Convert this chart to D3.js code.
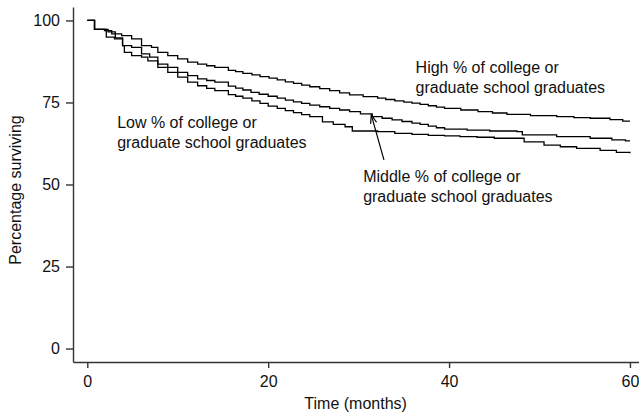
<!DOCTYPE html>
<html>
<head>
<meta charset="utf-8">
<script src="https://cdn.jsdelivr.net/npm/d3@7"></script>
<style>
  html, body { margin: 0; padding: 0; background: #fff; }
  svg { display: block; font-family: "Liberation Sans", Arial, Helvetica, sans-serif; }
</style>
</head>
<body>
<svg id="chart" width="639" height="412"></svg>
<script>
// Kaplan–Meier survival by share of college / graduate school graduates
const highMonths = [0, 0.8, 1.9, 2.7, 3.8, 4.9, 6.0, 7.1, 7.8, 8.9, 10.0, 11.1, 12.2, 13.2, 14.1, 15.6, 16.4, 17.2, 18.2, 19.1, 20.1, 21.0, 21.9, 22.8, 23.7, 24.6, 25.7, 26.8, 27.9, 29.0, 30.5, 32.1, 33.0, 34.0, 35.0, 35.9, 36.8, 37.7, 38.6, 39.5, 41.3, 43.2, 44.8, 46.4, 49.0, 51.9, 53.8, 55.6, 57.8, 59.2, 60];
const highSurv   = [100, 97.3, 96.9, 95.9, 95.4, 94.4, 92.3, 91.8, 90.3, 89.3, 88.3, 87.3, 86.7, 86.2, 85.7, 84.8, 84.4, 83.9, 83.4, 82.9, 82.4, 81.9, 81.3, 80.8, 80.3, 79.8, 79.2, 78.6, 77.9, 77.3, 76.8, 76.3, 75.9, 75.5, 75.1, 74.8, 74.4, 74.0, 73.6, 73.2, 72.7, 72.2, 71.8, 71.4, 71.0, 70.7, 70.4, 70.2, 69.8, 69.3, 69.3];

const middleMonths = [0, 0.8, 2.1, 3.0, 3.9, 4.9, 6.0, 6.9, 7.8, 8.9, 10.0, 11.1, 12.2, 13.2, 14.1, 15.6, 16.4, 17.2, 18.1, 19.0, 20.0, 21.0, 21.9, 22.8, 23.7, 24.6, 25.7, 26.8, 27.9, 29.0, 30.2, 31.5, 32.6, 33.7, 34.8, 35.9, 36.8, 37.7, 38.6, 39.5, 42.0, 44.5, 47.5, 48.1, 51.9, 55.6, 58.0, 59.5, 60];
const middleSurv   = [100, 97.3, 94.9, 94.4, 92.3, 91.8, 89.8, 88.8, 86.7, 85.7, 84.2, 83.2, 82.2, 81.7, 81.2, 80.0, 79.4, 78.8, 78.1, 77.5, 76.9, 76.3, 75.7, 75.2, 74.7, 74.2, 73.7, 73.2, 72.7, 72.2, 71.5, 70.7, 70.2, 69.7, 69.2, 68.7, 68.3, 67.8, 67.3, 66.9, 66.6, 66.3, 66.1, 65.1, 64.6, 64.1, 63.6, 63.3, 63.3];

const lowMonths = [0, 0.8, 2.3, 3.1, 3.9, 4.1, 4.9, 6.0, 6.7, 7.8, 8.9, 10.0, 11.1, 12.2, 13.2, 14.1, 15.6, 16.4, 17.2, 18.2, 19.1, 20.0, 21.0, 21.9, 22.8, 23.7, 24.6, 26.0, 27.2, 28.5, 29.3, 32.1, 34.0, 35.9, 37.7, 39.5, 41.2, 43.1, 45.0, 48.3, 50.5, 52.3, 54.1, 56.7, 58.5, 60];
const lowSurv   = [100, 97.3, 96.5, 94.7, 92.3, 90.3, 89.3, 88.8, 87.7, 85.7, 84.2, 82.7, 81.2, 80.1, 79.3, 78.6, 77.4, 76.9, 76.3, 75.5, 74.7, 73.9, 73.2, 72.5, 71.9, 71.3, 70.7, 69.1, 68.3, 67.6, 66.3, 66.1, 65.6, 65.3, 65.0, 64.8, 64.6, 64.4, 64.1, 63.0, 62.0, 61.5, 61.0, 60.4, 59.8, 59.5];

const xTicks = [0, 20, 40, 60];
const yTicks = [0, 25, 50, 75, 100];

const groupLabels = [
  { lines: ["High % of college or", "graduate school graduates"], t: 36.3, v: 83.9 },
  { lines: ["Low % of college or", "graduate school graduates"], t: 3.3, v: 67.3 },
  { lines: ["Middle % of college or", "graduate school graduates"], t: 30.5, v: 50.8 }
];
// arrow from the middle-group label to its curve
const arrowFrom = { t: 32.8, v: 57.5 };
const arrowTo   = { t: 31.4, v: 71.2 };

const svg = d3.select("#chart");

const x = d3.scaleLinear().domain([-1.58, 61]).range([73, 639]);
const y = d3.scaleLinear().domain([-4.1, 104.1]).range([362, 7]);

const fontSize = 16;

// y axis
const yAxis = svg.append("g")
  .attr("transform", "translate(73,0)")
  .call(d3.axisLeft(y).tickValues(yTicks).tickSize(7).tickSizeOuter(0).tickPadding(6));
// x axis
const xAxis = svg.append("g")
  .attr("transform", "translate(0,362)")
  .call(d3.axisBottom(x).tickValues(xTicks).tickSize(6).tickSizeOuter(0).tickPadding(8));

[yAxis, xAxis].forEach(g => {
  g.select(".domain").attr("stroke", "#333").attr("stroke-width", 1.4);
  g.selectAll(".tick line").attr("stroke", "#333").attr("stroke-width", 1.4);
  g.selectAll(".tick text")
    .attr("fill", "#111")
    .style("font-size", fontSize + "px")
    .style("font-family", "'Liberation Sans', Arial, Helvetica, sans-serif");
});

// axis titles
svg.append("text")
  .attr("x", x(30) - 3)
  .attr("y", 409)
  .attr("text-anchor", "middle")
  .style("font-size", fontSize + "px")
  .attr("fill", "#111")
  .text("Time (months)");

svg.append("text")
  .attr("transform", "translate(21,190) rotate(-90)")
  .attr("text-anchor", "middle")
  .style("font-size", fontSize + "px")
  .attr("fill", "#111")
  .text("Percentage surviving");

// survival step curves
const line = d3.line()
  .x(d => x(d[0]))
  .y(d => y(d[1]))
  .curve(d3.curveStepAfter);

const series = [
  [highMonths, highSurv],
  [middleMonths, middleSurv],
  [lowMonths, lowSurv]
];

series.forEach(([months, surv]) => {
  svg.append("path")
    .datum(months.map((m, i) => [m, surv[i]]))
    .attr("fill", "none")
    .attr("stroke", "#000")
    .attr("stroke-width", 1.3)
    .attr("d", line);
});

// group labels
groupLabels.forEach(lbl => {
  const txt = svg.append("text")
    .attr("x", x(lbl.t))
    .attr("y", y(lbl.v))
    .style("font-size", fontSize + "px")
    .attr("fill", "#111");
  lbl.lines.forEach((l, i) => {
    txt.append("tspan")
      .attr("x", x(lbl.t))
      .attr("dy", i === 0 ? 0 : 20)
      .text(l);
  });
});

// arrow
const ax0 = x(arrowFrom.t), ay0 = y(arrowFrom.v);
const ax1 = x(arrowTo.t), ay1 = y(arrowTo.v);
svg.append("line")
  .attr("x1", ax0).attr("y1", ay0)
  .attr("x2", ax1).attr("y2", ay1)
  .attr("stroke", "#000").attr("stroke-width", 1.2);
const ang = Math.atan2(ay0 - ay1, ax0 - ax1);
const headLen = 9, spread = 0.35;
svg.append("path")
  .attr("d", `M${ax1 + headLen * Math.cos(ang - spread)},${ay1 + headLen * Math.sin(ang - spread)}L${ax1},${ay1}L${ax1 + headLen * Math.cos(ang + spread)},${ay1 + headLen * Math.sin(ang + spread)}`)
  .attr("fill", "none")
  .attr("stroke", "#000")
  .attr("stroke-width", 1.2);
</script>
</body>
</html>
